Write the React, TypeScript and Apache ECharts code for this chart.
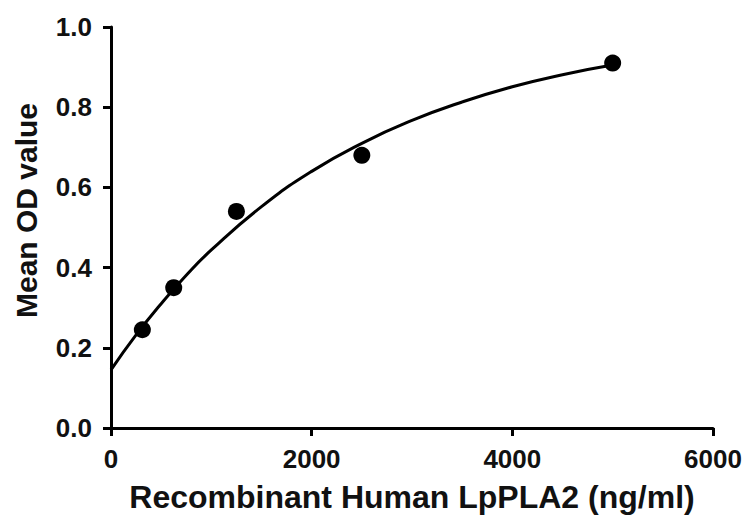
import React, { useEffect, useRef } from "react";
import * as echarts from "echarts";

const xTicks = [0, 2000, 4000, 6000];
const yTicks = [0.0, 0.2, 0.4, 0.6, 0.8, 1.0];

const concentrations = [312.5, 625, 1250, 2500, 5000];
const meanOD = [0.245, 0.35, 0.54, 0.68, 0.91];

const curveX = [0, 250, 500, 750, 1000, 1500, 2000, 2500, 3000, 3500, 4000, 4500, 5000];
const curveY = [0.145, 0.232, 0.31, 0.381, 0.444, 0.552, 0.64, 0.71, 0.767, 0.813, 0.851, 0.881, 0.905];

const xTitle = "Recombinant Human LpPLA2 (ng/ml)";
const yTitle = "Mean OD value";

export default function App() {
  const ref = useRef<HTMLDivElement>(null);

  useEffect(() => {
    if (!ref.current) return;
    const chart = echarts.init(ref.current, undefined, { renderer: "svg" });
    const font = "'Liberation Sans', Arial, sans-serif";
    const axisCommon = {
      axisLine: { show: true, onZero: false, lineStyle: { color: "#000", width: 3 } },
      axisTick: { show: true, inside: false, length: 8, lineStyle: { color: "#000", width: 3 } },
      splitLine: { show: false },
    };
    chart.setOption({
      animation: false,
      backgroundColor: "#fff",
      grid: { left: 111, right: 32, top: 27, bottom: 93, containLabel: false },
      xAxis: {
        type: "value",
        min: xTicks[0],
        max: xTicks[xTicks.length - 1],
        interval: 2000,
        name: xTitle,
        nameLocation: "middle",
        nameGap: 53,
        nameTextStyle: { color: "#111", fontSize: 32, fontWeight: "bold", fontFamily: font },
        ...axisCommon,
        axisLabel: {
          color: "#111",
          fontSize: 26,
          fontWeight: "bold",
          fontFamily: font,
          margin: 18,
          formatter: (v: number) => String(v),
        },
      },
      yAxis: {
        type: "value",
        min: yTicks[0],
        max: yTicks[yTicks.length - 1],
        interval: 0.2,
        name: yTitle,
        nameLocation: "middle",
        nameGap: 70,
        nameTextStyle: {
          color: "#111",
          fontSize: 30,
          fontWeight: "bold",
          fontFamily: font,
          padding: [0, 0, 0, 34],
        },
        ...axisCommon,
        axisLabel: {
          color: "#111",
          fontSize: 26,
          fontWeight: "bold",
          fontFamily: font,
          margin: 19,
          formatter: (v: number) => v.toFixed(1),
        },
      },
      series: [
        {
          type: "line",
          data: curveX.map((x, i) => [x, curveY[i]]),
          smooth: true,
          showSymbol: false,
          symbol: "none",
          lineStyle: { color: "#000", width: 3 },
          z: 2,
        },
        {
          type: "scatter",
          data: concentrations.map((x, i) => [x, meanOD[i]]),
          symbol: "circle",
          symbolSize: 17,
          itemStyle: { color: "#000", opacity: 1 },
          z: 3,
        },
      ],
    });
    return () => chart.dispose();
  }, []);

  return <div ref={ref} style={{ width: 745, height: 521, position: "absolute", left: 0, top: 0 }} />;
}
